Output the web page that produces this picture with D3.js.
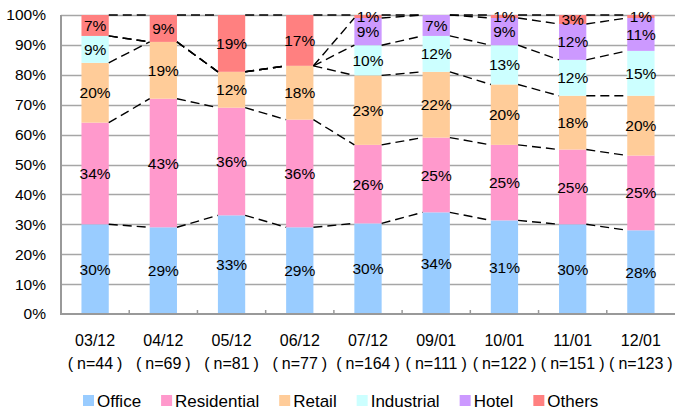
<!DOCTYPE html>
<html>
<head>
<meta charset="utf-8">
<script src="https://cdn.jsdelivr.net/npm/d3@7"></script>
<style>
  html, body { margin: 0; padding: 0; background: #fff; }
  svg { display: block; font-family: "Liberation Sans", Arial, sans-serif; }
</style>
</head>
<body>
<svg id="chart" width="675" height="412"></svg>
<script>
// Survey periods and their sample sizes
const categories = ["03/12", "04/12", "05/12", "06/12", "07/12", "09/01", "10/01", "11/01", "12/01"];
const sampleSizes = [44, 69, 81, 77, 164, 111, 122, 151, 123];

// Share of each property type (%) per period
const seriesNames = ["Office", "Residential", "Retail", "Industrial", "Hotel", "Others"];
const office      = [30, 29, 33, 29, 30, 34, 31, 30, 28];
const residential = [34, 43, 36, 36, 26, 25, 25, 25, 25];
const retail      = [20, 19, 12, 18, 23, 22, 20, 18, 20];
const industrial  = [9, 0, 0, 0, 10, 12, 13, 12, 15];
const hotel       = [0, 0, 0, 0, 9, 7, 9, 12, 11];
const others      = [7, 9, 19, 17, 1, 0, 1, 3, 1];
const seriesColors = ["#99ccff", "#ff99cc", "#ffcc99", "#ccffff", "#cc99ff", "#ff8080"];

// Y-axis tick values (%)
const yTickValues = [0, 10, 20, 30, 40, 50, 60, 70, 80, 90, 100];

const seriesValues = [office, residential, retail, industrial, hotel, others];
const rows = categories.map((c, i) => {
  const r = { cat: c };
  seriesNames.forEach((s, k) => { r[s] = seriesValues[k][i]; });
  return r;
});

const svg = d3.select("#chart");
const plot = { left: 61, right: 675, top: 15, bottom: 314 };

const x = d3.scaleBand()
  .domain(categories)
  .range([plot.left, plot.right])
  .paddingInner(0.6)
  .paddingOuter(0.3);
const step = x.step();

const y = d3.scaleLinear().domain([0, 1]).range([plot.bottom, plot.top]);
const color = d3.scaleOrdinal().domain(seriesNames).range(seriesColors);

const stacked = d3.stack().keys(seriesNames).offset(d3.stackOffsetExpand)(rows);

// Horizontal gridlines
svg.append("g")
  .selectAll("line")
  .data(yTickValues.filter(v => v > 0))
  .join("line")
  .attr("x1", plot.left)
  .attr("x2", plot.right)
  .attr("y1", d => Math.round(y(d / 100)) + 0.5)
  .attr("y2", d => Math.round(y(d / 100)) + 0.5)
  .attr("stroke", "#a6a6a6")
  .attr("stroke-width", 1.6);

// Stacked bars
svg.append("g")
  .selectAll("g")
  .data(stacked)
  .join("g")
  .attr("fill", d => color(d.key))
  .selectAll("rect")
  .data(d => d)
  .join("rect")
  .attr("x", d => x(d.data.cat))
  .attr("width", x.bandwidth())
  .attr("y", d => y(d[1]))
  .attr("height", d => Math.max(0, y(d[0]) - y(d[1])));

// Dashed series lines joining the top of each series between neighbouring bars
const seriesLine = d3.line().x(d => d[0]).y(d => d[1]);
const lineGroup = svg.append("g")
  .attr("fill", "none")
  .attr("stroke", "#000")
  .attr("stroke-width", 1.4)
  .attr("stroke-dasharray", "9,5");
stacked.forEach(layer => {
  for (let i = 0; i < layer.length - 1; i++) {
    const a = layer[i], b = layer[i + 1];
    lineGroup.append("path").attr("d", seriesLine([
      [x(a.data.cat) + x.bandwidth(), y(a[1])],
      [x(b.data.cat), y(b[1])]
    ]));
  }
});

// Axes
const yAxisG = svg.append("g").attr("transform", `translate(${plot.left},0)`)
  .call(d3.axisLeft(y).tickValues(yTickValues.map(v => v / 100)).tickFormat(d3.format(".0%")).tickSize(0).tickPadding(15));
yAxisG.select(".domain").remove();
yAxisG.selectAll("text")
  .attr("font-size", 15.5)
  .attr("fill", "#000")
  .attr("font-family", "Liberation Sans, Arial, sans-serif");

svg.append("line")
  .attr("x1", plot.left).attr("x2", plot.left)
  .attr("y1", plot.top).attr("y2", plot.bottom + 1)
  .attr("stroke", "#999").attr("stroke-width", 2);
svg.append("line")
  .attr("x1", plot.left - 1).attr("x2", plot.right)
  .attr("y1", plot.bottom).attr("y2", plot.bottom)
  .attr("stroke", "#999").attr("stroke-width", 2);

// Category boundary tick marks
svg.append("g")
  .selectAll("line")
  .data(categories.slice(1))
  .join("line")
  .attr("x1", d => x(d) - step * 0.3)
  .attr("x2", d => x(d) - step * 0.3)
  .attr("y1", plot.bottom)
  .attr("y2", plot.bottom - 4)
  .attr("stroke", "#999")
  .attr("stroke-width", 1.5);

// Category labels (period and sample size)
const catLabels = svg.append("g")
  .attr("text-anchor", "middle")
  .attr("font-size", 16)
  .attr("fill", "#000");
categories.forEach((c, i) => {
  const cx = x(c) + x.bandwidth() / 2;
  catLabels.append("text").attr("x", cx).attr("y", 346).text(c);
  catLabels.append("text").attr("x", cx).attr("y", 369)
    .text(`(\u2005n=${sampleSizes[i]}\u2005)`);
});

// Value labels in each segment
const labelG = svg.append("g")
  .attr("text-anchor", "middle")
  .attr("font-size", 15.5)
  .attr("fill", "#000");
stacked.forEach((layer, k) => {
  layer.forEach((d, i) => {
    const v = seriesValues[k][i];
    if (v <= 0) return;
    labelG.append("text")
      .attr("x", x(d.data.cat) + x.bandwidth() / 2)
      .attr("y", (y(d[0]) + y(d[1])) / 2)
      .attr("dy", "0.36em")
      .text(v + "%");
  });
});

// Legend
const legend = svg.append("g").attr("font-size", 17).attr("fill", "#000");
let lx = 83;
seriesNames.forEach(name => {
  legend.append("rect")
    .attr("x", lx).attr("y", 395)
    .attr("width", 11).attr("height", 11)
    .attr("fill", color(name));
  const t = legend.append("text")
    .attr("x", lx + 14).attr("y", 401)
    .attr("dy", "0.36em")
    .text(name);
  lx += 14 + t.node().getComputedTextLength() + 20;
});
</script>
</body>
</html>
